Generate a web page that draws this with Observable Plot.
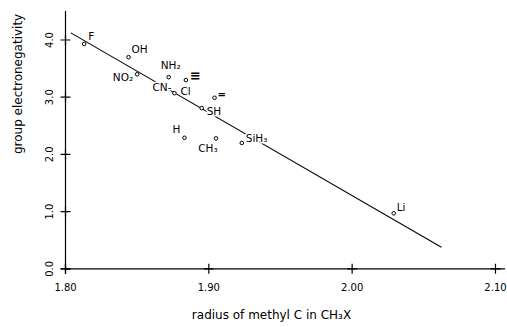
<!DOCTYPE html>
<html>
<head>
<meta charset="utf-8">
<script src="https://cdn.jsdelivr.net/npm/d3@7"></script>
<script src="https://cdn.jsdelivr.net/npm/@observablehq/plot@0.6"></script>
<style>
  html, body { margin: 0; padding: 0; background: #fff; }
  svg { display: block; }
</style>
</head>
<body>
<div id="chart"></div>
<script>
// ---- data ----
const groups = ["F", "OH", "NO₂", "NH₂", "≡", "CN", "=", "SH", "H", "CH₃", "SiH₃", "Li"];
const radius = [1.813, 1.844, 1.850, 1.872, 1.884, 1.876, 1.904, 1.895, 1.883, 1.905, 1.923, 2.029];
const electroneg = [3.93, 3.70, 3.40, 3.35, 3.30, 3.07, 2.99, 2.81, 2.29, 2.28, 2.20, 0.97];
const fitX = [1.804, 2.062];
const fitY = [4.12, 0.38];
const xTicks = [1.80, 1.90, 2.00, 2.10];
const yTicks = [0, 1, 2, 3, 4];
const xTitle = "radius of methyl C in CH₃X";
const yTitle = "group electronegativity";

const points = groups.map((g, i) => ({g, x: radius[i], y: electroneg[i]}));
const fit = fitX.map((x, i) => ({x, y: fitY[i]}));

// label layout (pixel offsets / anchors), not data
const layout = {
  "F":    {dx: 4,  dy: -7,  a: "start"},
  "OH":   {dx: 3,  dy: -8,  a: "start"},
  "NO₂":  {dx: -4, dy: 3,   a: "end"},
  "NH₂":  {dx: 2,  dy: -12, a: "middle"},
  "≡":    {dx: 4,  dy: -4,  a: "start", big: 13},
  "CN":   {dx: -3, dy: -6,  a: "end", text: "CN-"},
  "=":    {dx: 3,  dy: -3,  a: "start", big: 10},
  "SH":   {dx: 5,  dy: 4,   a: "start"},
  "H":    {dx: -4, dy: -8,  a: "end"},
  "CH₃":  {dx: -8, dy: 10,  a: "middle"},
  "SiH₃": {dx: 4,  dy: -4,  a: "start"},
  "Li":   {dx: 3,  dy: -6,  a: "start"}
};
const labelMarks = [];
for (const p of points) {
  const L = layout[p.g];
  labelMarks.push(Plot.text([p], {
    x: "x", y: "y", text: () => L.text || p.g,
    dx: L.dx, dy: L.dy, textAnchor: L.a,
    fontSize: L.big || 10.5, fontWeight: L.big ? "bold" : "normal",
    fill: "black", stroke: "white", strokeWidth: 3
  }));
}
// Cl shares the CN point
const clMark = Plot.text(points.filter(p => p.g === "CN"), {
  x: "x", y: "y", text: () => "Cl", dx: 6, dy: -2, textAnchor: "start",
  fontSize: 10.5, fill: "black", stroke: "white", strokeWidth: 3
});

const chart = Plot.plot({
  width: 507,
  height: 327,
  marginLeft: 65,
  marginRight: 2,
  marginTop: 10.9,
  marginBottom: 58.7,
  x: {domain: [1.80, 2.107], axis: null},
  y: {domain: [0, 4.5], axis: null},
  style: {fontFamily: "DejaVu Sans, sans-serif", fontSize: "10px", color: "black", background: "white"},
  marks: [
    Plot.ruleY([0], {stroke: "black", strokeWidth: 1.2}),
    Plot.ruleX([1.80], {stroke: "black", strokeWidth: 1.2}),
    Plot.dot(xTicks, {x: d => d, y: () => 0, symbol: "plus", r: 3.3, stroke: "black", strokeWidth: 1.2}),
    Plot.dot(yTicks, {x: () => 1.80, y: d => d, symbol: "plus", r: 3.3, stroke: "black", strokeWidth: 1.2}),
    Plot.text(xTicks, {x: d => d, y: () => 0, text: d => d.toFixed(2), dy: 18.5, fontSize: 10, letterSpacing: "0.6px"}),
    Plot.text(yTicks, {x: () => 1.80, y: d => d, text: d => d.toFixed(1), rotate: -90, dx: -15.5, fontSize: 10, letterSpacing: "0.6px"}),
    Plot.text([xTitle], {frameAnchor: "bottom", text: d => d, dx: -14, dy: 50, fontSize: 12, letterSpacing: "1.9px"}),
    Plot.text([yTitle], {frameAnchor: "left", text: d => d, rotate: -90, dx: -47, dy: 14, fontSize: 12, letterSpacing: "0.8px"}),
    Plot.line(fit, {x: "x", y: "y", stroke: "black", strokeWidth: 1.1}),
    ...labelMarks,
    clMark,
    Plot.dot(points, {x: "x", y: "y", r: 1.8, stroke: "black", strokeWidth: 1, fill: "white"})
  ]
});
document.getElementById("chart").appendChild(chart);
</script>
</body>
</html>
